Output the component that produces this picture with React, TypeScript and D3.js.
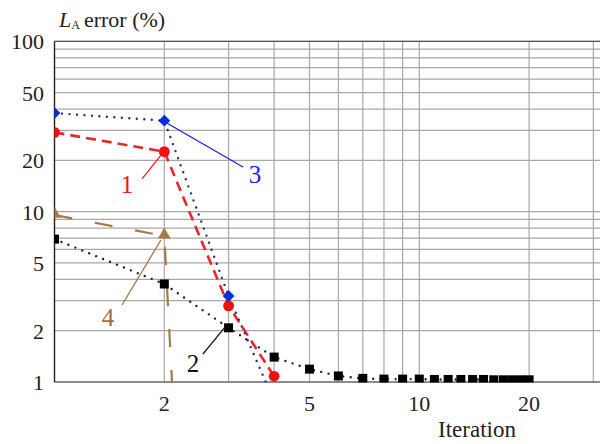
import React from "react";
import * as d3 from "d3";

// iteration numbers and error values (%)
const iterShort = [1, 2, 3, 4];
const iterBrown = [1, 2, 3];
const iterBlack = [1, 2, 3, 4, 5, 6, 7, 8, 9, 10, 11, 12, 13, 14, 15, 16, 17, 18, 19, 20];

const series1 = [29.2, 22.5, 2.8, 1.08]; // red, circles
const series3 = [37.9, 34.2, 3.2, 0.77]; // blue, diamonds
const series4 = [9.55, 7.2, 5e-7]; // brown, triangles
const series2 = [6.9, 3.76, 2.08, 1.4, 1.19, 1.085, 1.05, 1.04, 1.04, 1.04, 1.035, 1.035, 1.035, 1.035, 1.035, 1.03, 1.03, 1.03, 1.03, 1.03]; // black, squares

const xGrid = [2, 3, 4, 5, 6, 7, 8, 9, 10, 20, 30];
const yGrid = [2, 3, 4, 5, 6, 7, 8, 9, 10, 20, 30, 40, 50, 60, 70, 80, 90, 100];
const xTicks = [2, 5, 10, 20];
const yTicks = [1, 2, 5, 10, 20, 50, 100];

// annotation labels: text spot, leader start, leader end (data space)
const labels = [
  { text: "1", color: "#f01818", tx: 1.58, ty: 12.9, x1: 1.738, y1: 15.55, x2: 1.958, y2: 21.5 },
  { text: "3", color: "#1a1aff", tx: 3.545, ty: 14.73, x1: 2.009, y1: 33.6, x2: 3.286, y2: 18.3 },
  { text: "4", color: "#a0703c", tx: 1.402, ty: 2.13, x1: 1.531, y1: 2.83, x2: 1.958, y2: 6.82 },
  { text: "2", color: "#111", tx: 2.398, ty: 1.145, x1: 2.553, y1: 1.46, x2: 2.934, y2: 2.1 },
];

const FONT = "Liberation Serif, DejaVu Serif, serif";

const App = () => {
  const x = d3.scaleLog().domain([1, 10]).range([54.5, 419.3]);
  const y = d3.scaleLog().domain([1, 100]).range([382, 41.3]);
  const left = x(1), right = 600, top = y(100), bottom = y(1);

  const line = (xs: number[], ys: number[]) =>
    d3.line<number>().x((d, i) => x(xs[i])).y((d) => y(d))(ys) || "";

  const triangle = d3.symbol().type(d3.symbolTriangle).size(70)() || "";

  return (
    <svg width={600} height={444} style={{ position: "absolute", left: 0, top: 0 }} fontFamily={FONT}>
      <defs>
        <clipPath id="plot">
          <rect x={left} y={top - 2} width={right - left} height={bottom - top + 2.5} />
        </clipPath>
      </defs>

      {/* grid */}
      {yGrid.map((v) => (
        <line key={"h" + v} x1={left} x2={right} y1={y(v)} y2={y(v)} stroke="#a8a8a8" strokeWidth={1.2} />
      ))}
      {xGrid.map((v) => (
        <line key={"v" + v} x1={x(v)} x2={x(v)} y1={top} y2={bottom} stroke="#a8a8a8" strokeWidth={1.2} />
      ))}
      <line x1={left} x2={right} y1={top} y2={top} stroke="#555" strokeWidth={1.2} />
      <line x1={left} x2={right} y1={bottom} y2={bottom} stroke="#666" strokeWidth={1.4} />
      <line x1={left} x2={left} y1={top} y2={bottom} stroke="#222" strokeWidth={1.4} />

      {/* tick labels */}
      {yTicks.map((v) => (
        <text key={"yt" + v} x={44} y={y(v)} dy="0.36em" textAnchor="end" fontSize={22} fill="#222">
          {v}
        </text>
      ))}
      {xTicks.map((v) => (
        <text key={"xt" + v} x={x(v)} y={411} textAnchor="middle" fontSize={22} fill="#222">
          {v}
        </text>
      ))}
      <text x={477} y={437} textAnchor="middle" fontSize={23} fill="#222">Iteration</text>
      <text x={59} y={27} fontSize={22} fill="#222">
        <tspan fontStyle="italic">L</tspan>
        <tspan fontSize={12} dy={2}>A</tspan>
        <tspan dy={-2} dx={4}>error (%)</tspan>
      </text>

      <g clipPath="url(#plot)">
        {/* lines */}
        <path d={line(iterBrown, series4)} fill="none" stroke="#a87a4a" strokeWidth={2.2} strokeDasharray="18,23" />
        <path d={line(iterBlack, series2)} fill="none" stroke="#222" strokeWidth={2.4} strokeDasharray="0,7.5" strokeLinecap="round" />
        <path d={line(iterShort, series1)} fill="none" stroke="#e8262c" strokeWidth={2.6} strokeDasharray="10,6" />
        <path d={line(iterShort, series3)} fill="none" stroke="#262a8a" strokeWidth={2.4} strokeDasharray="0,7.5" strokeLinecap="round" />

        {/* markers */}
        {series4.map((v, i) => (
          <path key={"t" + i} d={triangle} transform={`translate(${x(iterBrown[i])},${y(v) - 1})`} fill="#a87a4a" />
        ))}
        {series2.map((v, i) => (
          <rect key={"s" + i} x={x(iterBlack[i]) - 4.5} y={y(v) - 4.5} width={9} height={9} fill="#000" />
        ))}
        {series1.map((v, i) => (
          <circle key={"c" + i} cx={x(iterShort[i])} cy={y(v)} r={5.4} fill="#f01010" />
        ))}
        {series3.map((v, i) => (
          <rect key={"d" + i} x={-4.2} y={-4.2} width={8.4} height={8.4} transform={`translate(${x(iterShort[i])},${y(v)}) rotate(45)`} fill="#0a2ce0" />
        ))}
      </g>

      {/* annotations */}
      {labels.map((l) => (
        <g key={"l" + l.text}>
          <line x1={x(l.x1)} y1={y(l.y1)} x2={x(l.x2)} y2={y(l.y2)} stroke={l.color} strokeWidth={1.2} />
          <text x={x(l.tx)} y={y(l.ty)} textAnchor="middle" fontSize={25} fill={l.color}>
            {l.text}
          </text>
        </g>
      ))}
    </svg>
  );
};

export default App;
